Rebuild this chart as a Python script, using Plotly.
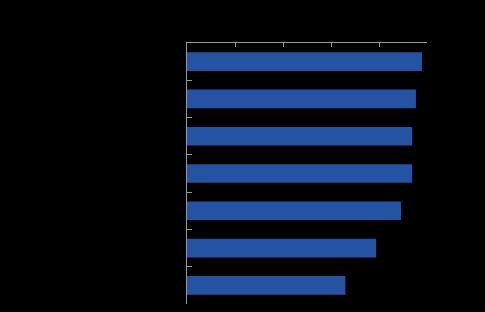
import plotly.graph_objects as go

categories = ["Item 1", "Item 2", "Item 3", "Item 4", "Item 5", "Item 6", "Item 7"]
values = [97.9, 95.4, 93.8, 93.8, 89.2, 78.8, 66.0]
x_ticks = [0, 20, 40, 60, 80, 100]

fig = go.Figure(go.Bar(
    y=categories, x=values, orientation="h",
    marker=dict(color="#2453a3", line=dict(width=0)),
    width=0.5,
))
fig.update_layout(
    width=485, height=312,
    paper_bgcolor="black", plot_bgcolor="black",
    margin=dict(l=187, r=58, t=43, b=8),
    showlegend=False,
    font=dict(family="Open Sans", color="black", size=11),
)
fig.update_xaxes(
    side="top", range=[0, 100], tickvals=x_ticks, ticks="inside", ticklen=4,
    tickcolor="#999999", showline=True, linecolor="#999999", linewidth=1,
    showgrid=False, zeroline=False, showticklabels=False,
)
fig.update_yaxes(
    autorange="reversed", categoryorder="array", categoryarray=categories,
    tickson="boundaries", ticks="inside", ticklen=5, tickcolor="#999999",
    showline=True, linecolor="#999999", linewidth=1, showgrid=False,
    tickfont=dict(color="black"),
)
fig.write_html("out.html")
